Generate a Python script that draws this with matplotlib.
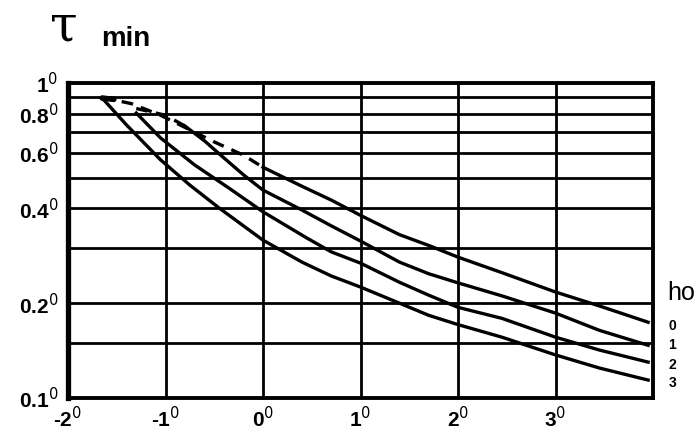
import matplotlib
matplotlib.use("Agg")
import matplotlib.pyplot as plt

# values (y is on a log scale)
x_ticks = [-2, -1, 0, 1, 2, 3]
x_labels = ["-2", "-1", "0", "1", "2", "3"]
y_ticks = [0.1, 0.2, 0.4, 0.6, 0.8, 1.0]
y_labels = ["0.1", "0.2", "0.4", "0.6", "0.8", "1"]
y_grid = [0.15, 0.2, 0.3, 0.4, 0.5, 0.6, 0.7, 0.8, 0.9]
x_grid = [-1, 0, 1, 2, 3]
ho_labels = ["0", "1", "2", "3"]

# ho = 0 (dashed start, then solid)
x0_dash = [-1.65, -1.35, -1.05, -0.75, -0.5, -0.2, 0.0]
y0_dash = [0.90, 0.86, 0.79, 0.71, 0.65, 0.59, 0.54]
x0 = [0.0, 0.4, 0.7, 1.0, 1.4, 1.7, 2.0, 2.45, 3.0, 3.45, 3.95]
y0 = [0.54, 0.47, 0.425, 0.38, 0.33, 0.305, 0.28, 0.25, 0.217, 0.196, 0.174]

# ho = 1
x1_dash = [-1.3, -1.0, -0.8]
y1_dash = [0.83, 0.79, 0.73]
x1 = [-0.8, -0.6, -0.4, -0.2, 0.0, 0.4, 0.7, 1.0, 1.4, 1.7, 2.0, 2.45, 3.0, 3.45, 3.95]
y1 = [0.73, 0.655, 0.578, 0.511, 0.457, 0.395, 0.352, 0.315, 0.27, 0.248, 0.232, 0.211, 0.186, 0.164, 0.147]

# ho = 2
x2 = [-1.3, -1.05, -0.7, -0.35, 0.0, 0.45, 0.7, 1.0, 1.4, 1.7, 2.0, 2.45, 3.0, 3.45, 3.95]
y2 = [0.803, 0.669, 0.549, 0.464, 0.390, 0.322, 0.291, 0.268, 0.233, 0.212, 0.194, 0.179, 0.156, 0.142, 0.130]

# ho = 3
x3 = [-1.65, -1.4, -1.05, -0.75, -0.45, 0.0, 0.4, 0.7, 1.0, 1.4, 1.7, 2.0, 2.45, 3.0, 3.45, 3.95]
y3 = [0.896, 0.736, 0.570, 0.474, 0.401, 0.317, 0.270, 0.244, 0.225, 0.200, 0.183, 0.171, 0.156, 0.137, 0.1245, 0.114]

plt.rcParams["font.family"] = ["Liberation Sans", "DejaVu Sans"]

fig = plt.figure(figsize=(6.99, 4.48), dpi=100)
ax = fig.add_axes([68 / 699, 50 / 448, 585 / 699, 315 / 448])

ax.set_yscale("log")
ax.set_xlim(-2, 4)
ax.set_ylim(0.1, 1.0)

# grid drawn by hand so only the lines of the original show
for v in y_grid:
    ax.axhline(v, color="black", lw=2.0, zorder=1)
for v in x_grid:
    ax.axvline(v, color="black", lw=2.0, zorder=1)

lw = 2.4
ax.plot(x0_dash, y0_dash, color="black", lw=lw, ls=(0, (3.5, 2.5)), zorder=3)
ax.plot(x0, y0, color="black", lw=lw, zorder=3)
ax.plot(x1_dash, y1_dash, color="black", lw=lw, ls=(0, (3.5, 2.5)), zorder=3)
ax.plot(x1, y1, color="black", lw=lw, zorder=3)
ax.plot(x2, y2, color="black", lw=lw, zorder=3)
ax.plot(x3, y3, color="black", lw=lw, zorder=3)
# little blob where the curves start
ax.plot([x3[0], x3[0] + 0.12], [y3[0], y3[0] * 0.99], color="black", lw=4, solid_capstyle="round", zorder=4)

for side in ["top", "right", "bottom"]:
    ax.spines[side].set_linewidth(2.8)
ax.spines["left"].set_linewidth(3.8)

ax.minorticks_off()
ax.set_xticks(x_ticks)
ax.set_xticklabels([s + "$^{0}$" for s in x_labels], fontsize=15, fontweight="bold")
ax.set_yticks(y_ticks)
ax.set_yticklabels([s + "$^{0}$" for s in y_labels], fontsize=15, fontweight="bold")
ax.tick_params(axis="x", length=0, pad=6)
ax.tick_params(axis="y", length=0, pad=7)

# curve labels at the right edge
ends = [y0[-1], y1[-1], y2[-1], y3[-1]]
nudge = [-3, 0, -2, -2]
for lab, yv, dy in zip(ho_labels, ends, nudge):
    ax.annotate(lab, xy=(4, yv), xytext=(11, dy), textcoords="offset points",
                fontsize=10, fontweight="bold", va="center", ha="left", annotation_clip=False)

fig.text(667 / 699, 1 - 300 / 448, "ho", fontsize=18, va="baseline", ha="left")
fig.text(64 / 699, 1 - 26 / 448, "τ", fontsize=36, family="DejaVu Serif", va="center", ha="center")
fig.text(101 / 699, 1 - 46 / 448, "min", fontsize=20, fontweight="bold", va="baseline", ha="left")

fig.savefig("out.png", dpi=100, facecolor="white")
